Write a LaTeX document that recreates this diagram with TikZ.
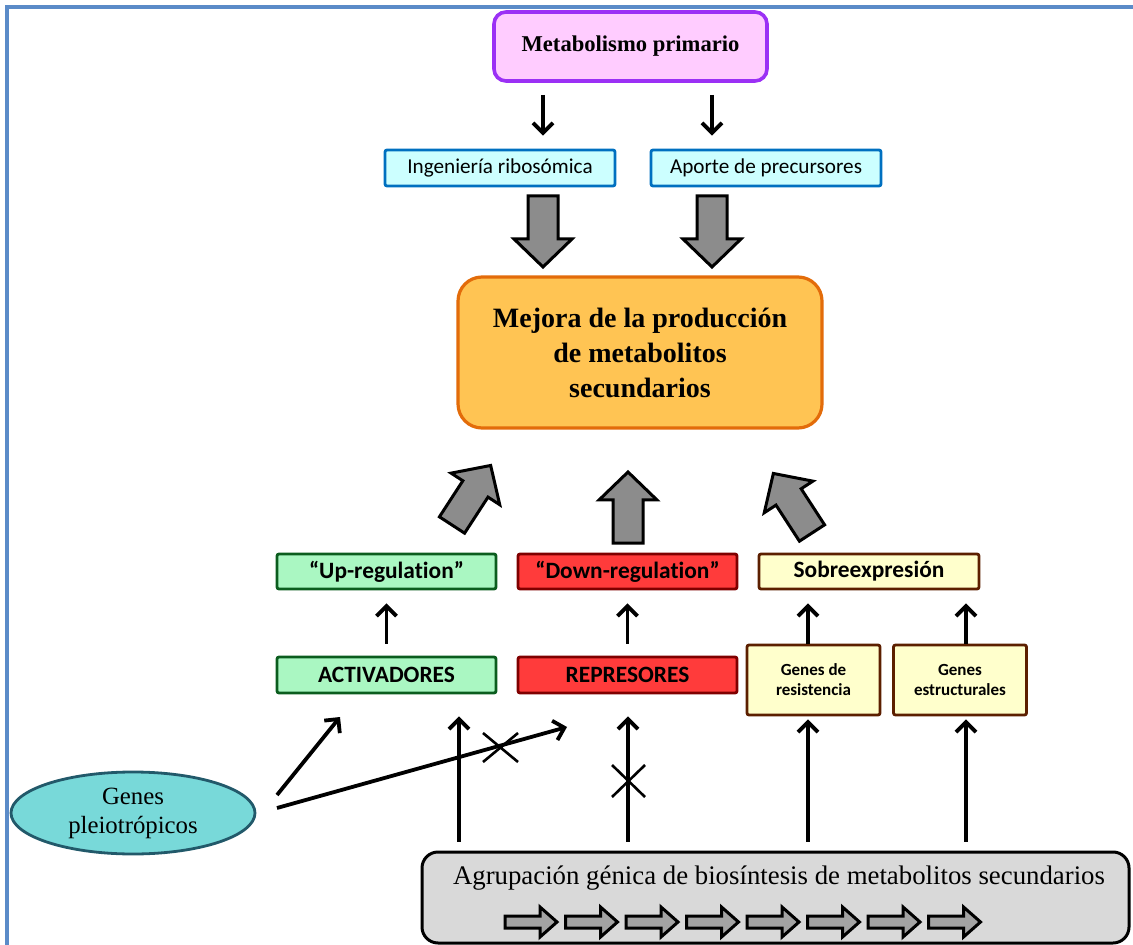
\documentclass[tikz,border=0pt]{standalone}
\usepackage{fontspec}
\setmainfont{Liberation Serif}
\newfontfamily\calib[Ligatures=NoCommon,RawFeature={-calt;-dlig}]{Carlito}
\usetikzlibrary{positioning,arrows.meta,shapes.geometric,calc}
\definecolor{Frame}{HTML}{5B8BC8}
\definecolor{Pink}{HTML}{FFCCFF}
\definecolor{Violet}{HTML}{9B30F5}
\definecolor{Cyan}{HTML}{CCFFFF}
\definecolor{Blue}{HTML}{0070C0}
\definecolor{Orange}{HTML}{FFC453}
\definecolor{DarkOrange}{HTML}{E36C0A}
\definecolor{Green}{HTML}{AAF7C2}
\definecolor{DarkGreen}{HTML}{0B5D1E}
\definecolor{Red}{HTML}{FF3B3B}
\definecolor{DarkRed}{HTML}{7F0000}
\definecolor{Yellow}{HTML}{FFFFCC}
\definecolor{Brown}{HTML}{5C1F00}
\definecolor{Teal}{HTML}{78D9D9}
\definecolor{DarkTeal}{HTML}{22596A}
\definecolor{Cluster}{HTML}{D9D9D9}
\definecolor{Block}{HTML}{8C8C8C}
\definecolor{GeneGray}{HTML}{A3A3A3}

\tikzset{
  box/.style={draw,line width=1.4pt,rounded corners=1pt,inner sep=0pt,align=center},
  sanstext/.style={font=\calib\fontsize{10.6}{12}\selectfont},
  sansbold/.style={font=\calib\bfseries\fontsize{11.7}{13}\selectfont},
  smallbold/.style={font=\calib\bfseries\fontsize{8.5}{10}\selectfont},
  thinarr/.style={line width=1.9pt,-{Straight Barb[length=5pt,width=10pt]}},
  bigarrow/.pic={\draw[fill=Block,line width=1.5pt,line join=miter]
    (0,-15)--(43,-15)--(43,-29)--(71,0)--(43,29)--(43,15)--(0,15)--cycle;},
  genearrow/.pic={\draw[fill=GeneGray,line width=1.5pt,line join=miter]
    (0,-6)--(35,-6)--(35,-15)--(52,0)--(35,15)--(35,6)--(0,6)--cycle;}
}

\begin{document}
\begin{tikzpicture}[x=0.5pt,y=-0.5pt]
\useasboundingbox (0,0) rectangle (1133,945);
\draw[Frame,line width=1.6pt] (7,960) -- (7,7) -- (1150,7);

% top part
\node[box,fill=Pink,draw=Violet,line width=1.8pt,rounded corners=6pt,
  minimum width=136.5pt,minimum height=34.5pt,font=\bfseries\fontsize{11.3}{13}\selectfont]
  (metab) at (630.5,46.5) {Metabolismo primario};
\node[box,sanstext,fill=Cyan,draw=Blue,minimum width=115pt,minimum height=18pt]
  (ribo) at (500,168) {Ingeniería ribosómica};
\node[box,sanstext,fill=Cyan,draw=Blue,minimum width=115pt,minimum height=18pt]
  (aporte) at (766,168) {Aporte de precursores};
\node[box,fill=Orange,draw=DarkOrange,line width=1.6pt,rounded corners=12pt,
  minimum width=182pt,minimum height=75.5pt,font=\bfseries\fontsize{14}{17.5}\selectfont]
  (mejora) at (640,352.5) {Mejora de la producción\\de metabolitos\\secundarios};

\coordinate (m1) at (543,0);
\coordinate (m2) at (712,0);
\draw[thinarr,shorten <=6pt,shorten >=6.5pt] (metab.south -| m1) -- (ribo.north -| m1);
\draw[thinarr,shorten <=6pt,shorten >=6.5pt] (metab.south -| m2) -- (aporte.north -| m2);

\pic[rotate=-90] at (543,196) {bigarrow};
\pic[rotate=-90] at (712,196) {bigarrow};
\pic[rotate=57] at (452,525) {bigarrow};
\pic[rotate=90] at (628,543) {bigarrow};
\pic[rotate=123] at (812,533) {bigarrow};

% regulation
\node[box,sansbold,fill=Green,draw=DarkGreen,minimum width=109.5pt,minimum height=17.5pt]
  (upreg) at (386.5,571.5) {“Up-regulat\kern0pt ion”};
\node[box,sansbold,fill=Red,draw=DarkRed,minimum width=109.5pt,minimum height=17.5pt]
  (downreg) at (627.5,571.5) {“Down-regulat\kern0pt ion”};
\node[box,sansbold,fill=Yellow,draw=Brown,minimum width=110pt,minimum height=17.5pt]
  (sobre) at (869,571.5) {Sobreexpresión};
\node[box,sansbold,fill=Green,draw=DarkGreen,minimum width=109.5pt,minimum height=18pt]
  (activ) at (386.5,675) {ACTIVADORES};
\node[box,sansbold,fill=Red,draw=DarkRed,minimum width=109.5pt,minimum height=18pt]
  (repres) at (627.5,675) {REPRESORES};
\node[box,smallbold,fill=Yellow,draw=Brown,minimum width=66.5pt,minimum height=35pt]
  (resist) at (813.5,680) {Genes de\\resistencia};
\node[box,smallbold,fill=Yellow,draw=Brown,minimum width=66.5pt,minimum height=35pt]
  (estruct) at (960,680) {Genes\\estructurales};

\draw[thinarr,shorten <=6pt,shorten >=6.5pt] (activ) -- (upreg);
\draw[thinarr,shorten <=6pt,shorten >=6.5pt] (repres) -- (downreg);
\coordinate (s1) at (808,0);
\coordinate (s2) at (966,0);
\draw[thinarr,shorten >=6.5pt] (resist.north -| s1) -- (sobre.south -| s1);
\draw[thinarr,shorten >=6.5pt] (estruct.north -| s2) -- (sobre.south -| s2);

% cluster
\node[box,fill=Cluster,draw=black,line width=1.5pt,rounded corners=8pt,
  minimum width=353.5pt,minimum height=45.5pt] (cluster) at (775.5,897.5) {};
\node[font=\fontsize{13.4}{15}\selectfont,inner sep=0pt] (clustertext) at (779,878)
  {Agrupación génica de biosíntesis de metabolitos secundarios};
\foreach \i in {0,...,7}
  \pic at (505+60.5*\i,922) {genearrow};

\coordinate (c1) at (459,0);
\coordinate (c2) at (628,0);
\draw[thinarr,shorten <=4.5pt,shorten >=11pt] (cluster.north -| c1) -- (activ.south -| c1);
\draw[thinarr,shorten <=4.5pt,shorten >=11pt] (cluster.north -| c2) -- (repres.south -| c2);
\draw[thinarr,shorten <=4.5pt,shorten >=1.5pt] (cluster.north -| s1) -- (resist.south -| s1);
\draw[thinarr,shorten <=4.5pt,shorten >=1.5pt] (cluster.north -| s2) -- (estruct.south -| s2);

% pleiotropic genes
\node[ellipse,draw=DarkTeal,fill=Teal,line width=1.4pt,minimum width=122pt,minimum height=41pt,
  inner sep=0pt,align=center,font=\fontsize{12.4}{14.5}\selectfont]
  (pleio) at (133,813) {Genes\\pleiotrópicos};
\coordinate (p1) at (277,795);
\coordinate (p2) at (277,808);
\coordinate (t1) at (340,717);
\coordinate (t2) at (567,727);
\draw[thinarr] (p1) -- (t1);
\draw[thinarr] (p2) -- (t2);

% blocked paths
\draw[line width=1.3pt] (483,733) -- (518,762) (483,762) -- (518,733);
\draw[line width=1.3pt] (612,765) -- (645,797) (612,797) -- (645,765);
\end{tikzpicture}
\end{document}
